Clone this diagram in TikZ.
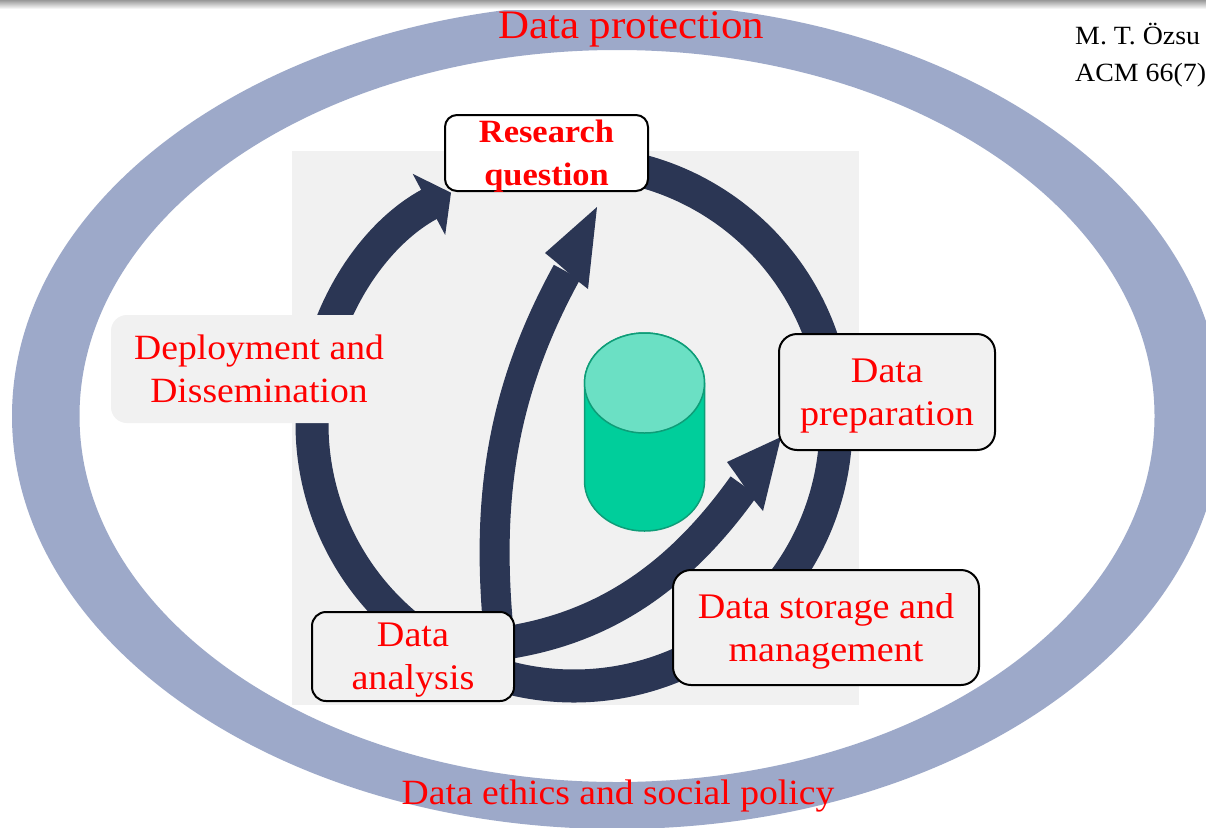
\documentclass[tikz,border=0pt]{standalone}
\usepackage{fontspec}
\setmainfont[FakeStretch=1.06]{Liberation Serif}
\usetikzlibrary{arrows.meta,shadings}
\definecolor{ringblue}{HTML}{9DA9C9}
\definecolor{flowdark}{HTML}{2B3654}
\definecolor{panelgray}{HTML}{F1F1F1}
\definecolor{cylbody}{HTML}{00CE9B}
\definecolor{cyltop}{HTML}{6BE0C4}
\definecolor{cyledge}{HTML}{0E9D78}
\tikzset{
  flow/.style={draw=flowdark,line width=33pt},
  flowhead/.style={fill=flowdark},
  stagebox/.style={draw=black,line width=2pt,fill=panelgray,align=center,text=red,
    font=\fontsize{36}{43}\selectfont,inner sep=0pt,anchor=center,text depth=-6.5pt},
  redlabel/.style={text=red,font=\fontsize{35.5}{43}\selectfont,inner sep=0pt,anchor=center},
  citeline/.style={text=black,font=\fontsize{26.3}{30}\selectfont,inner sep=0pt,anchor=base west}
}
\begin{document}
\begin{tikzpicture}[x=1pt,y=-1pt]
\useasboundingbox (0,0) rectangle (1206,827);
\fill[white] (0,0) rectangle (1206,827);
% outer ring
\fill[ringblue,even odd rule] (617,416) circle[x radius=605,y radius=413]
      (617,416) circle[x radius=537.5,y radius=366];
\shade[top color=black!40,bottom color=white] (0,0) rectangle (1206,9);
% panel
\fill[panelgray] (292,151) rectangle (859,705);
% labels on the ring
\node[redlabel,font=\fontsize{40.5}{43}\selectfont] (protect) at (631,29) {Data protection};
\node[redlabel] (ethics) at (618,796) {Data ethics and social policy};
% citation
\node[citeline] (cite1) at (1075,44) {M. T. Özsu};
\node[citeline] (cite2) at (1075,81) {ACM 66(7)};
% circle points
\coordinate (C) at (574,424);
\path (C) ++(-78:262) coordinate (cR);
\path (C) ++(-5:262) coordinate (cP);
\path (C) ++(45:262) coordinate (cS);
\path (C) ++(113:262) coordinate (cA);
\path (C) ++(130:262) coordinate (cAl);
\path (C) ++(185:262) coordinate (cD);
% the cycle
\draw[flow] (cR) arc[start angle=-78,end angle=-5,radius=262];
\draw[flow] (cP) arc[start angle=-5,end angle=45,radius=262];
\draw[flow] (cS) arc[start angle=45,end angle=113,radius=262];
\draw[flow] (cAl) arc[start angle=130,end angle=185,radius=262];
\draw[flow,-{Triangle[length=25pt,width=68pt]}] (cD) arc[start angle=185,end angle=242,radius=262];
% the two short-cuts, with their bent heads
\coordinate (aTop) at (498,625);
\coordinate (headQ) at (567,272);
\coordinate (aRight) at (505,643);
\coordinate (headP) at (744,486);
\draw[flow,line width=30pt] (aTop) .. controls (486,490) and (505,385) .. (headQ);
\draw[flow,line width=33pt] (aRight) .. controls (590,630) and (670,590) .. (headP);
\fill[flowhead] (597,207) -- (545,253) -- (556,262) -- (579,282) -- (588,289) -- cycle;
\fill[flowhead] (781,437) -- (727,462) -- (735,473) -- (753,499) -- (763,511) -- cycle;
% cylinder
\draw[cyledge,fill=cylbody,line width=1.5pt] (584.5,383) -- (584.5,481)
   arc[start angle=180,end angle=0,x radius=60,y radius=50] -- (704.5,383)
   arc[start angle=0,end angle=-180,x radius=60,y radius=50] -- cycle;
\draw[cyledge,fill=cyltop,line width=1.5pt] (644.5,383) circle[x radius=60,y radius=50];
% boxes
\node[stagebox,fill=white,rounded corners=12pt,minimum width=203pt,minimum height=76pt,
      font=\fontsize{32.5}{43}\selectfont\bfseries] (research) at (546.5,153) {Research\\question};
\node[stagebox,rounded corners=18pt,minimum width=216pt,minimum height=116pt] (prep) at (887,392) {Data\\preparation};
\node[stagebox,rounded corners=18pt,minimum width=306pt,minimum height=115pt] (storage) at (826,627.5) {Data storage and\\management};
\node[stagebox,rounded corners=14pt,minimum width=202pt,minimum height=89pt] (analysis) at (413,656.5) {Data\\analysis};
\node[stagebox,draw=none,rounded corners=16pt,minimum width=296pt,minimum height=108pt,
      font=\fontsize{35.5}{43}\selectfont] (deploy) at (259,369) {Deployment and\\Dissemination};
\end{tikzpicture}
\end{document}
